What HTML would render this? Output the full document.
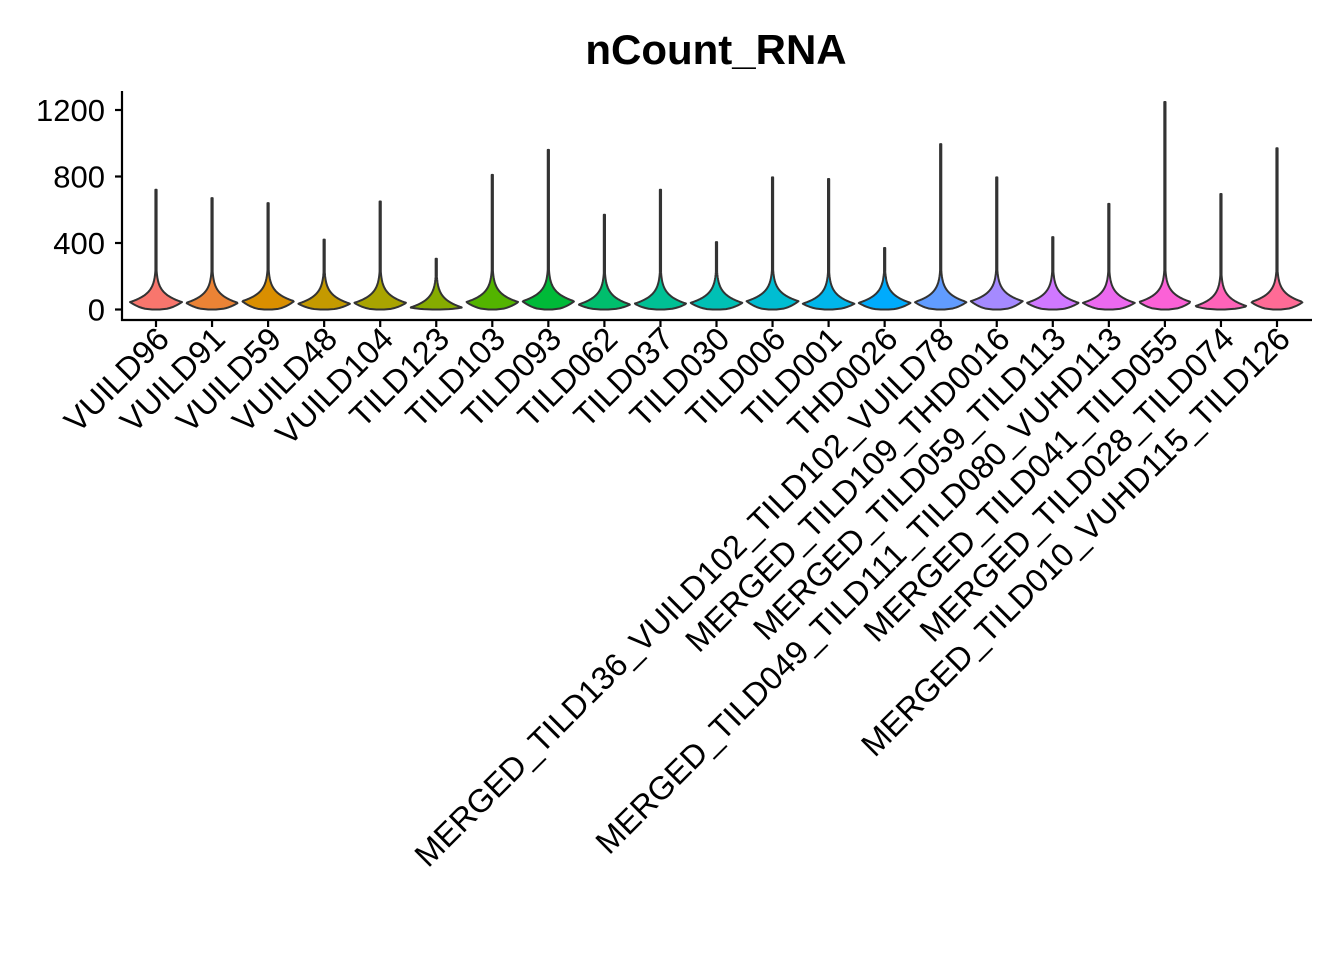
<!DOCTYPE html>
<html><head><meta charset="utf-8"><style>
html,body{margin:0;padding:0;background:#fff;}
svg{display:block;font-family:"Liberation Sans",Arial,sans-serif;}
</style></head><body>
<svg id="chart" width="1344" height="960" viewBox="0 0 1344 960">
<rect width="1344" height="960" fill="#fff"/>
<text x="716" y="64" text-anchor="middle" font-size="42" font-weight="bold">nCount_RNA</text>
<g id="marks"></g>
<g id="axes"></g>
</svg>
<script>
const groups = ["VUILD96","VUILD91","VUILD59","VUILD48","VUILD104","TILD123","TILD103","TILD093","TILD062","TILD037","TILD030","TILD006","TILD001","THD0026","VUILD78","THD0016","TILD113","VUHD113","TILD055","TILD074","TILD126"];
const tickLabels = ["VUILD96","VUILD91","VUILD59","VUILD48","VUILD104","TILD123","TILD103","TILD093","TILD062","TILD037","TILD030","TILD006","TILD001","THD0026","MERGED_TILD136_VUILD102_TILD102_VUILD78","MERGED_TILD109_THD0016","MERGED_TILD059_TILD113","MERGED_TILD049_TILD111_TILD080_VUHD113","MERGED_TILD041_TILD055","MERGED_TILD028_TILD074","MERGED_TILD010_VUHD115_TILD126"];
const maxValues = [720,670,640,420,650,305,810,960,570,720,405,795,785,370,995,795,435,635,1248,695,970];
const modeValues = [45,40,50,35,40,12,45,50,30,35,40,50,35,40,45,50,40,40,45,20,45];
const yTicks = [0,400,800,1200];

const SVGNS="http://www.w3.org/2000/svg";
const x0=156, dx=56.05, yZero=309.5, pxPer=66.5/400;
const xScale=i=>x0+i*dx;
const yScale=v=>yZero-v*pxPer;
const HALF=26;

function hcl2rgb(h,c,l){
  const hr=h*Math.PI/180, U=c*Math.cos(hr), V=c*Math.sin(hr);
  const Xn=0.95047,Yn=1,Zn=1.08883;
  const un=4*Xn/(Xn+15*Yn+3*Zn), vn=9*Yn/(Xn+15*Yn+3*Zn);
  const Y = l>8 ? Yn*Math.pow((l+16)/116,3) : Yn*l/903.3;
  const u=U/(13*l)+un, v=V/(13*l)+vn;
  const X=Y*9*u/(4*v), Z=Y*(12-3*u-20*v)/(4*v);
  let r=3.2406*X-1.5372*Y-0.4986*Z, g=-0.9689*X+1.8758*Y+0.0415*Z, b=0.0557*X-0.2040*Y+1.0570*Z;
  const gam=x=>{x=x<=0.0031308?12.92*x:1.055*Math.pow(x,1/2.4)-0.055;return Math.round(Math.max(0,Math.min(1,x))*255);};
  return `rgb(${gam(r)},${gam(g)},${gam(b)})`;
}
const n=groups.length;
const marks=document.getElementById('marks');
groups.forEach((gname,i)=>{
  const cx=xScale(i), mx=maxValues[i], m=modeValues[i];
  const prof=[];
  const steps=160;
  for(let k=0;k<=steps;k++){
    const v=mx*k/steps;
    let w;
    if(v<=m){ w=0.15+0.85*Math.sqrt(v/m); }
    else { w=Math.exp(-(v-m)/50); }
    w=Math.max(w*HALF,0.6);
    prof.push([yScale(v),w]);
  }
  let d=`M${cx},${yScale(0)}`;
  prof.forEach(p=>{d+=`L${(cx+p[1]).toFixed(2)},${p[0].toFixed(2)}`;});
  for(let k=prof.length-1;k>=0;k--){d+=`L${(cx-prof[k][1]).toFixed(2)},${prof[k][0].toFixed(2)}`;}
  d+='Z';
  const p=document.createElementNS(SVGNS,'path');
  p.setAttribute('d',d);
  p.setAttribute('fill',hcl2rgb(15+360*i/n,100,65));
  p.setAttribute('stroke','#333');
  p.setAttribute('stroke-width','2');
  p.setAttribute('stroke-linejoin','round');
  
  
  marks.appendChild(p);
});
const axes=document.getElementById('axes');
function add(tag,attrs,name,text){
  const e=document.createElementNS(SVGNS,tag);
  for(const k in attrs)e.setAttribute(k,attrs[k]);
  
  
  if(text!==undefined)e.textContent=text;
  axes.appendChild(e);return e;
}
add('line',{x1:122,y1:91,x2:122,y2:321,stroke:'#000','stroke-width':2.2},'y-axis-line');
add('line',{x1:121,y1:320,x2:1312,y2:320,stroke:'#000','stroke-width':2.2},'x-axis-line');
yTicks.forEach(t=>{
  add('line',{x1:115,y1:yScale(t),x2:122,y2:yScale(t),stroke:'#000','stroke-width':2.2},'y-tick');
  add('text',{x:105,y:yScale(t)+11,'text-anchor':'end','font-size':31},'y-tick-label',String(t));
});
tickLabels.forEach((lab,i)=>{
  const x=xScale(i);
  add('line',{x1:x,y1:320,x2:x,y2:327,stroke:'#000','stroke-width':2.2},'x-tick');
  add('text',{x:x+15,y:341,'text-anchor':'end','font-size':32.5,transform:`rotate(-45 ${x+15} 341)`},'x-tick-label',lab);
});
</script>
</body></html>
